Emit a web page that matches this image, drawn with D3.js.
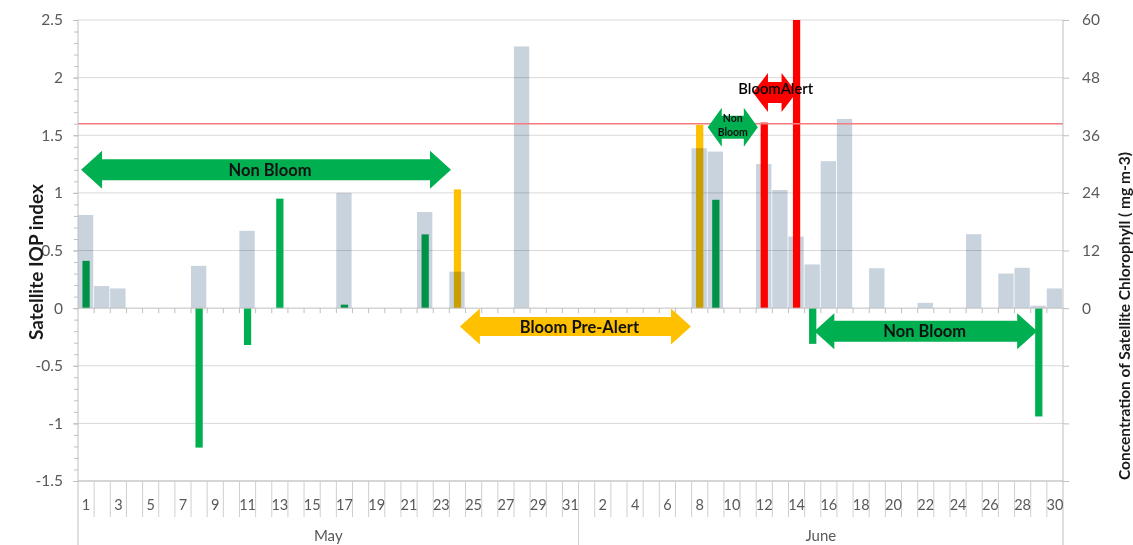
<!DOCTYPE html>
<html>
<head>
<meta charset="utf-8">
<script src="https://cdn.jsdelivr.net/npm/d3@7"></script>
<style>
  body { margin: 0; background: #fff; }
  svg { display: block; font-family: Lato, "Open Sans", sans-serif; }
</style>
</head>
<body>
<svg id="chart" width="1133" height="545"></svg>
<script>
// ---- Data ----------------------------------------------------------
const months = ["May", "June"];
const monthLengths = [31, 30];

// Satellite chlorophyll concentration (mg m-3), right axis
const chlDays = ["May 1", "May 2", "May 3", "May 8", "May 11", "May 17", "May 22", "May 24", "May 28",
  "June 8", "June 9", "June 12", "June 13", "June 14", "June 15", "June 16", "June 17", "June 19",
  "June 22", "June 25", "June 27", "June 28", "June 29", "June 30"];
const chlValues = [19.4, 4.6, 4.1, 8.8, 16.1, 24.0, 20.0, 7.6, 54.5,
  33.3, 32.6, 30.0, 24.6, 14.9, 9.1, 30.6, 39.4, 8.3,
  1.1, 15.4, 7.2, 8.4, 0.5, 4.1];

// Satellite IOP index, left axis
const iopDays = ["May 1", "May 8", "May 11", "May 13", "May 17", "May 22", "May 24",
  "June 8", "June 9", "June 12", "June 14", "June 15", "June 29"];
const iopValues = [0.41, -1.21, -0.32, 0.95, 0.03, 0.64, 1.03,
  1.59, 0.94, 1.61, 2.5, -0.31, -0.94];
const iopStatus = ["non", "non", "non", "non", "non", "non", "pre",
  "pre", "non", "alert", "alert", "non", "non"];

const alertThreshold = 1.6;
const leftTicks = [-1.5, -1, -0.5, 0, 0.5, 1, 1.5, 2, 2.5];
const rightTicks = [-36, -24, -12, 0, 12, 24, 36, 48, 60];

// ---- Layout --------------------------------------------------------
const W = 1133, H = 545;
const L = 78, R = 1063, T = 20, B = 481;
const statusColor = { non: "#00b050", pre: "#ffc000", alert: "#ff0000" };

const categories = [];
months.forEach((m, mi) => {
  for (let d = 1; d <= monthLengths[mi]; d++) categories.push({ key: m + " " + d, month: m, day: d });
});

const x = d3.scaleBand().domain(categories.map(c => c.key)).range([L, R]).paddingInner(0).paddingOuter(0);
const xi = d3.scaleLinear().domain([0, categories.length]).range([L, R]); // position by category index
const y = d3.scaleLinear().domain([-1.5, 2.5]).range([B, T]);
const y2 = d3.scaleLinear().domain([-36, 60]).range([B, T]);

const svg = d3.select("#chart");
svg.append("rect").attr("width", W).attr("height", H).attr("fill", "#fff");

// Horizontal gridlines
svg.append("g").selectAll("line").data(leftTicks.filter(v => v !== 0)).join("line")
  .attr("x1", L).attr("x2", R).attr("y1", d => y(d)).attr("y2", d => y(d))
  .attr("stroke", "#d9d9d9").attr("stroke-width", 1);

// IOP bars that sit beneath the chlorophyll bars
const iopData = iopDays.map((k, i) => ({ key: k, value: iopValues[i], status: iopStatus[i] }));
const iopW = x.bandwidth() * 0.45;
function drawIop(sel) {
  sel.attr("x", d => x(d.key) + (x.bandwidth() - iopW) / 2)
    .attr("width", iopW)
    .attr("y", d => y(Math.max(0, d.value)))
    .attr("height", d => Math.abs(y(d.value) - y(0)))
    .attr("fill", d => statusColor[d.status]);
}
svg.append("g").selectAll("rect").data(iopData.filter(d => d.status !== "alert")).join("rect").call(drawIop);

// Chlorophyll bars (multiplied over the IOP bars)
const chlData = chlDays.map((k, i) => ({ key: k, value: chlValues[i] }));
const chlW = x.bandwidth() * 0.95;
svg.append("g").selectAll("rect").data(chlData).join("rect")
  .attr("x", d => x(d.key) + (x.bandwidth() - chlW) / 2 - 0.5)
  .attr("width", chlW)
  .attr("y", d => y2(d.value))
  .attr("height", d => y2(0) - y2(d.value))
  .attr("fill", "#c9d3dd")
  .style("mix-blend-mode", "multiply");

// Alert bars on top
svg.append("g").selectAll("rect").data(iopData.filter(d => d.status === "alert")).join("rect").call(drawIop);

// Alert threshold line
svg.append("line").attr("x1", L).attr("x2", R)
  .attr("y1", y(alertThreshold)).attr("y2", y(alertThreshold))
  .attr("stroke", "#f47c7c").attr("stroke-width", 1.6);

// Zero line with category ticks
svg.append("line").attr("x1", L).attr("x2", R).attr("y1", y(0)).attr("y2", y(0))
  .attr("stroke", "#bfbfbf").attr("stroke-width", 1);
svg.append("g").selectAll("line").data(d3.range(1, categories.length)).join("line")
  .attr("x1", d => xi(d)).attr("x2", d => xi(d))
  .attr("y1", y(0)).attr("y2", y(0) + 5)
  .attr("stroke", "#bfbfbf");

// Left axis
const fmt = d => String(+d.toFixed(1));
const gL = svg.append("g").attr("transform", `translate(${L},0)`)
  .call(d3.axisLeft(y).tickValues(leftTicks).tickSize(5).tickPadding(10).tickFormat(fmt));
const minor = d3.range(-15, 26).map(v => v / 10);
svg.append("g").attr("transform", `translate(${L},0)`)
  .call(d3.axisLeft(y).tickValues(minor).tickSize(4).tickFormat(""))
  .call(g => g.select(".domain").remove())
  .call(g => g.selectAll(".tick line").attr("stroke", "#bfbfbf"));
svg.append("line").attr("x1", L).attr("x2", L).attr("y1", T).attr("y2", H)
  .attr("stroke", "#bfbfbf");

// Right axis
const gR = svg.append("g").attr("transform", `translate(${R},0)`)
  .call(d3.axisRight(y2).tickValues(rightTicks).tickSize(6).tickPadding(13)
    .tickFormat(d => d >= 0 ? String(d) : ""));
svg.append("line").attr("x1", R).attr("x2", R).attr("y1", T).attr("y2", H)
  .attr("stroke", "#bfbfbf");

[gL, gR].forEach(g => {
  g.select(".domain").remove();
  g.selectAll(".tick line").attr("stroke", "#bfbfbf");
  g.selectAll(".tick text").attr("fill", "#595959").style("font-size", "15.5px").style("font-family", "Lato, sans-serif");
});

// Category axis (day / month)
svg.append("line").attr("x1", L).attr("x2", R).attr("y1", B).attr("y2", B).attr("stroke", "#bfbfbf");
svg.append("g").selectAll("line").data(d3.range(1, categories.length)).join("line")
  .attr("x1", d => xi(d)).attr("x2", d => xi(d))
  .attr("y1", B).attr("y2", d => d === monthLengths[0] ? H : B + 36)
  .attr("stroke", "#cfcfcf");
svg.append("g").selectAll("text").data(categories.filter((c, i) => i % 2 === 0)).join("text")
  .attr("x", d => x(d.key) + x.bandwidth() / 2)
  .attr("y", B + 29)
  .attr("text-anchor", "middle")
  .attr("fill", "#595959").style("font-size", "14.5px")
  .text(d => d.day);
let start = 0;
months.forEach((m, mi) => {
  const a = xi(start), b = xi(start + monthLengths[mi]);
  svg.append("text").attr("x", (a + b) / 2).attr("y", H - 4)
    .attr("text-anchor", "middle").attr("fill", "#595959").style("font-size", "15px").text(m);
  start += monthLengths[mi];
});

// Axis titles
svg.append("text").attr("transform", `translate(43,262) rotate(-90)`)
  .attr("text-anchor", "middle").attr("fill", "#1a1a1a")
  .style("font-size", "19px").style("font-weight", "bold").text("Satellite IOP index");
svg.append("text").attr("transform", `translate(1130,316) rotate(-90)`)
  .attr("text-anchor", "middle").attr("fill", "#1a1a1a")
  .style("font-size", "15.5px").style("font-weight", "bold")
  .text("Concentration of Satellite Chlorophyll ( mg m-3)");

// ---- Period arrows -------------------------------------------------
function arrowPath(x0, x1, cy, bh, hh, hl) {
  return `M${x0},${cy} L${x0 + hl},${cy - hh} L${x0 + hl},${cy - bh} L${x1 - hl},${cy - bh} ` +
    `L${x1 - hl},${cy - hh} L${x1},${cy} L${x1 - hl},${cy + hh} L${x1 - hl},${cy + bh} ` +
    `L${x0 + hl},${cy + bh} L${x0 + hl},${cy + hh} Z`;
}
const arrows = [
  { from: 0.19, to: 23.1, at: 1.2, status: "non", lines: ["Non Bloom"], bh: 10.5, hh: 19, hl: 21, fs: 16.5, dy: 6, dx: 4 },
  { from: 23.65, to: 37.96, at: -0.16, status: "pre", lines: ["Bloom Pre-Alert"], bh: 9.5, hh: 18, hl: 20, fs: 16.5, dy: 6, dx: 4 },
  { from: 39.0, to: 42.1, at: 1.57, status: "non", lines: ["Non", "Bloom"], bh: 11.5, hh: 19.5, hl: 14, fs: 10.5, dy: 0, dx: 0 },
  { from: 41.8, to: 44.5, at: 1.87, status: "alert", lines: ["BloomAlert"], bh: 10.5, hh: 19.5, hl: 15, fs: 15, dy: 1, dx: 1 },
  { from: 45.6, to: 59.4, at: -0.2, status: "non", lines: ["Non Bloom"], bh: 10.5, hh: 18, hl: 20, fs: 16.5, dy: 6, dx: -1 }
];
arrows.forEach(a => {
  const x0 = xi(a.from), x1 = xi(a.to), cy = y(a.at);
  svg.append("path").attr("d", arrowPath(x0, x1, cy, a.bh, a.hh, a.hl)).attr("fill", statusColor[a.status]);
  const cx = (x0 + x1) / 2 + a.dx;
  if (a.lines.length === 1) {
    const t = svg.append("text").attr("x", cx).attr("y", cy + a.dy)
      .attr("text-anchor", "middle").attr("fill", "#111")
      .style("font-size", a.fs + "px").text(a.lines[0]);
    if (a.status === "alert") {
      t.attr("y", cy + 1).attr("textLength", 75).attr("lengthAdjust", "spacingAndGlyphs")
        .style("font-size", "16px").style("font-weight", "600").attr("fill", "#000");
    } else {
      t.style("font-weight", "bold");
    }
  } else {
    a.lines.forEach((ln, i) => {
      svg.append("text").attr("x", cx).attr("y", cy - 5 + i * 14)
        .attr("text-anchor", "middle").attr("fill", "#111")
        .style("font-size", a.fs + "px").style("font-weight", "bold").text(ln);
    });
  }
});
</script>
</body>
</html>
